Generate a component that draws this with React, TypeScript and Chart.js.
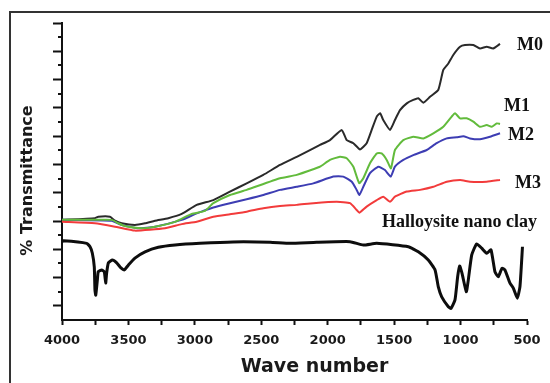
import React, { useEffect, useRef } from 'react';
import { Chart, registerables } from 'chart.js';

Chart.register(...registerables);

// FTIR spectra: wavenumber (cm-1) and % transmittance for each sample
const waveM0 = [4000, 3752, 3727, 3639, 3601, 3551, 3451, 3375, 3300, 3200, 3099, 2986, 2861, 2736, 2610, 2485, 2359, 2233, 2108, 2058, 1983, 1895, 1857, 1807, 1757, 1707, 1669, 1631, 1606, 1582, 1531, 1494, 1456, 1405, 1356, 1318, 1280, 1230, 1168, 1130, 1092, 1055, 1004, 967, 904, 854, 803, 754, 703];
const transM0 = [30.4, 31.0, 31.5, 31.5, 30.1, 29.2, 28.6, 29.2, 30.1, 31.0, 32.5, 35.7, 37.4, 40.4, 43.3, 46.3, 49.8, 52.7, 55.7, 56.9, 58.6, 62.2, 58.6, 57.5, 55.3, 57.5, 62.2, 66.9, 68.1, 65.7, 62.2, 65.7, 69.2, 71.6, 72.8, 73.4, 71.8, 73.9, 76.3, 83.4, 85.7, 88.7, 91.6, 92.2, 92.2, 91.0, 91.6, 91.0, 92.6];

const waveM1 = [4000, 3752, 3626, 3576, 3526, 3400, 3300, 3149, 3024, 2924, 2861, 2736, 2610, 2359, 2233, 2108, 2058, 1983, 1908, 1857, 1807, 1782, 1762, 1732, 1682, 1631, 1594, 1556, 1524, 1494, 1431, 1356, 1280, 1205, 1130, 1067, 1042, 1004, 954, 904, 854, 803, 766, 728, 703];
const transM1 = [30.4, 30.4, 30.4, 29.2, 28.2, 27.4, 28.0, 29.7, 32.5, 33.6, 36.3, 39.2, 41.0, 45.1, 46.3, 48.3, 49.2, 51.6, 52.7, 52.2, 49.2, 45.7, 43.3, 45.1, 50.4, 53.9, 53.9, 51.6, 48.6, 55.1, 58.6, 59.8, 59.2, 61.0, 63.3, 66.9, 68.1, 66.3, 66.3, 65.1, 63.3, 63.9, 63.3, 64.5, 64.3];

const waveM2 = [4000, 3626, 3551, 3426, 3300, 3099, 2986, 2861, 2736, 2610, 2485, 2359, 2233, 2108, 1958, 1883, 1819, 1782, 1762, 1732, 1682, 1619, 1569, 1526, 1494, 1431, 1356, 1255, 1180, 1104, 1029, 979, 929, 854, 778, 703];
const transM2 = [30.4, 30.1, 28.6, 27.4, 28.0, 30.4, 32.7, 34.8, 36.3, 37.7, 39.2, 41.0, 42.1, 43.3, 45.7, 45.7, 43.9, 41.0, 39.2, 42.1, 46.9, 49.2, 48.0, 45.7, 49.2, 51.6, 53.3, 55.1, 57.5, 59.2, 59.6, 60.0, 59.2, 58.9, 59.8, 61.0];

const waveM3 = [4000, 3752, 3601, 3451, 3225, 3099, 2986, 2861, 2736, 2610, 2485, 2359, 2233, 2108, 1932, 1832, 1782, 1762, 1707, 1631, 1582, 1531, 1494, 1405, 1305, 1205, 1104, 1004, 929, 803, 703];
const transM3 = [29.7, 29.2, 28.0, 26.6, 27.4, 28.9, 29.7, 31.5, 32.4, 33.3, 34.5, 35.3, 35.7, 36.3, 36.8, 36.3, 33.9, 32.9, 35.1, 37.4, 38.6, 36.8, 38.6, 40.4, 41.0, 42.1, 43.9, 44.5, 43.9, 43.9, 44.5];

const waveHNT = [4000, 3990, 3814, 3789, 3772, 3757, 3752, 3746, 3734, 3727, 3701, 3682, 3671, 3664, 3651, 3621, 3588, 3556, 3531, 3501, 3451, 3375, 3275, 3149, 2961, 2713, 2434, 2284, 2083, 1832, 1732, 1631, 1393, 1318, 1243, 1192, 1168, 1142, 1092, 1072, 1042, 1022, 1007, 989, 957, 942, 916, 879, 841, 803, 771, 741, 716, 688, 666, 628, 603, 573, 553, 534];
const transHNT = [22.7, 23.0, 22.1, 20.9, 18.7, 13.8, 5.6, 3.8, 9.1, 12.1, 12.7, 12.1, 8.1, 11.6, 15.2, 16.2, 15.2, 13.4, 12.7, 14.4, 16.9, 19.1, 20.7, 21.5, 22.1, 22.6, 22.5, 22.1, 22.5, 22.7, 21.5, 22.1, 20.9, 19.1, 16.2, 12.7, 6.8, 3.2, -0.3, -0.9, 2.1, 10.3, 14.1, 11.5, 5.0, 9.1, 18.0, 21.9, 20.4, 18.6, 19.8, 12.0, 10.3, 13.3, 12.7, 8.0, 6.3, 2.7, 6.8, 20.9];

const seriesNames = ['M0', 'M1', 'M2', 'M3', 'Halloysite nano clay'];

const toPoints = (xs: number[], ys: number[]) => xs.map((x, i) => ({ x, y: ys[i] }));

// where each series name is written, in axis units (left edge, vertical middle)
const labelAnchors = [
  { text: seriesNames[0], x: 575, y: 92.0 },
  { text: seriesNames[1], x: 673, y: 70.6 },
  { text: seriesNames[2], x: 643, y: 60.4 },
  { text: seriesNames[3], x: 590, y: 43.3 },
  { text: seriesNames[4], x: 1591, y: 29.6 },
];

const decorations = {
  id: 'decorations',
  afterDraw(chart: any) {
    const { ctx, chartArea, scales } = chart;
    const xs = scales.x;
    const ys = scales.y;
    ctx.save();
    // short minor ticks on the y axis
    ctx.strokeStyle = '#111';
    ctx.lineWidth = 2;
    ctx.beginPath();
    for (let v = 5; v < 100; v += 10) {
      const py = Math.round(ys.getPixelForValue(v));
      ctx.moveTo(chartArea.left - 4, py);
      ctx.lineTo(chartArea.left, py);
    }
    ctx.stroke();

    // series names
    ctx.fillStyle = '#111';
    ctx.font = 'bold 18px "Liberation Serif", "Times New Roman", serif';
    ctx.textAlign = 'left';
    ctx.textBaseline = 'middle';
    labelAnchors.forEach((a) => {
      ctx.fillText(a.text, xs.getPixelForValue(a.x), ys.getPixelForValue(a.y));
    });

    // axis titles
    ctx.fillStyle = '#1a1a1a';
    ctx.font = 'bold 19px "DejaVu Sans", sans-serif';
    ctx.textAlign = 'center';
    ctx.textBaseline = 'middle';
    ctx.fillText('Wave number', (chartArea.left + chartArea.right) / 2 + 20, chartArea.bottom + 47);

    ctx.translate(28, (chartArea.top + chartArea.bottom) / 2 + 9);
    ctx.rotate(-Math.PI / 2);
    ctx.font = 'bold 16px "DejaVu Sans", sans-serif';
    ctx.fillText('% Transmittance', 0, 0);
    ctx.restore();
  },
};

export default function App() {
  const canvasRef = useRef<HTMLCanvasElement | null>(null);

  useEffect(() => {
    if (!canvasRef.current) return;
    const line = (label: string, xs: number[], ys: number[], color: string, width: number) => ({
      label,
      data: toPoints(xs, ys),
      borderColor: color,
      backgroundColor: color,
      borderWidth: width,
      pointRadius: 0,
      tension: 0.15,
      fill: false,
    });
    const chart = new Chart(canvasRef.current, {
      type: 'line',
      data: {
        datasets: [
          line(seriesNames[4], waveHNT, transHNT, '#0d0d0d', 3),
          line(seriesNames[3], waveM3, transM3, '#f23b3b', 2),
          line(seriesNames[1], waveM1, transM1, '#62bb3c', 2),
          line(seriesNames[2], waveM2, transM2, '#3d3db3', 2),
          line(seriesNames[0], waveM0, transM0, '#2a2a2a', 2),
        ],
      },
      options: {
        animation: false,
        responsive: false,
        maintainAspectRatio: false,
        devicePixelRatio: 1,
        layout: { padding: { left: 0, right: 23, top: 23, bottom: 0 } },
        plugins: { legend: { display: false }, tooltip: { enabled: false } },
        scales: {
          x: {
            type: 'linear',
            reverse: true,
            min: 500,
            max: 4000,
            afterFit: (s: any) => {
              s.height = 63;
            },
            border: { display: true, color: '#111', width: 2 },
            grid: { drawOnChartArea: false, drawTicks: true, tickLength: 5, tickColor: '#111', tickWidth: 2 },
            ticks: {
              stepSize: 250,
              autoSkip: false,
              maxRotation: 0,
              padding: 8,
              color: '#1a1a1a',
              font: { family: '"DejaVu Sans", sans-serif', weight: 'bold', size: 13 },
              callback: (v: any) => (Number(v) % 500 === 0 ? String(v) : ''),
            },
          },
          y: {
            type: 'linear',
            min: -5,
            max: 100,
            afterFit: (s: any) => {
              s.width = 62;
            },
            border: { display: true, color: '#111', width: 2 },
            grid: {
              drawOnChartArea: false,
              drawTicks: true,
              tickLength: 9,
              tickWidth: 2,
              tickColor: (ctx: any) => (ctx.tick && ctx.tick.value < 0 ? 'rgba(0,0,0,0)' : '#111'),
            },
            ticks: { stepSize: 10, padding: 0, callback: () => '' },
          },
        },
      },
      plugins: [decorations],
    });
    return () => chart.destroy();
  }, []);

  return (
    <div style={{ position: 'fixed', left: 0, top: 0, width: 550, height: 383, background: '#fff', overflow: 'hidden' }}>
      <canvas ref={canvasRef} width={550} height={383} style={{ display: 'block' }} />
      <div
        style={{
          position: 'absolute',
          left: 9,
          top: 11,
          width: 600,
          height: 500,
          borderLeft: '2px solid #333',
          borderTop: '2px solid #333',
          pointerEvents: 'none',
        }}
      />
    </div>
  );
}
